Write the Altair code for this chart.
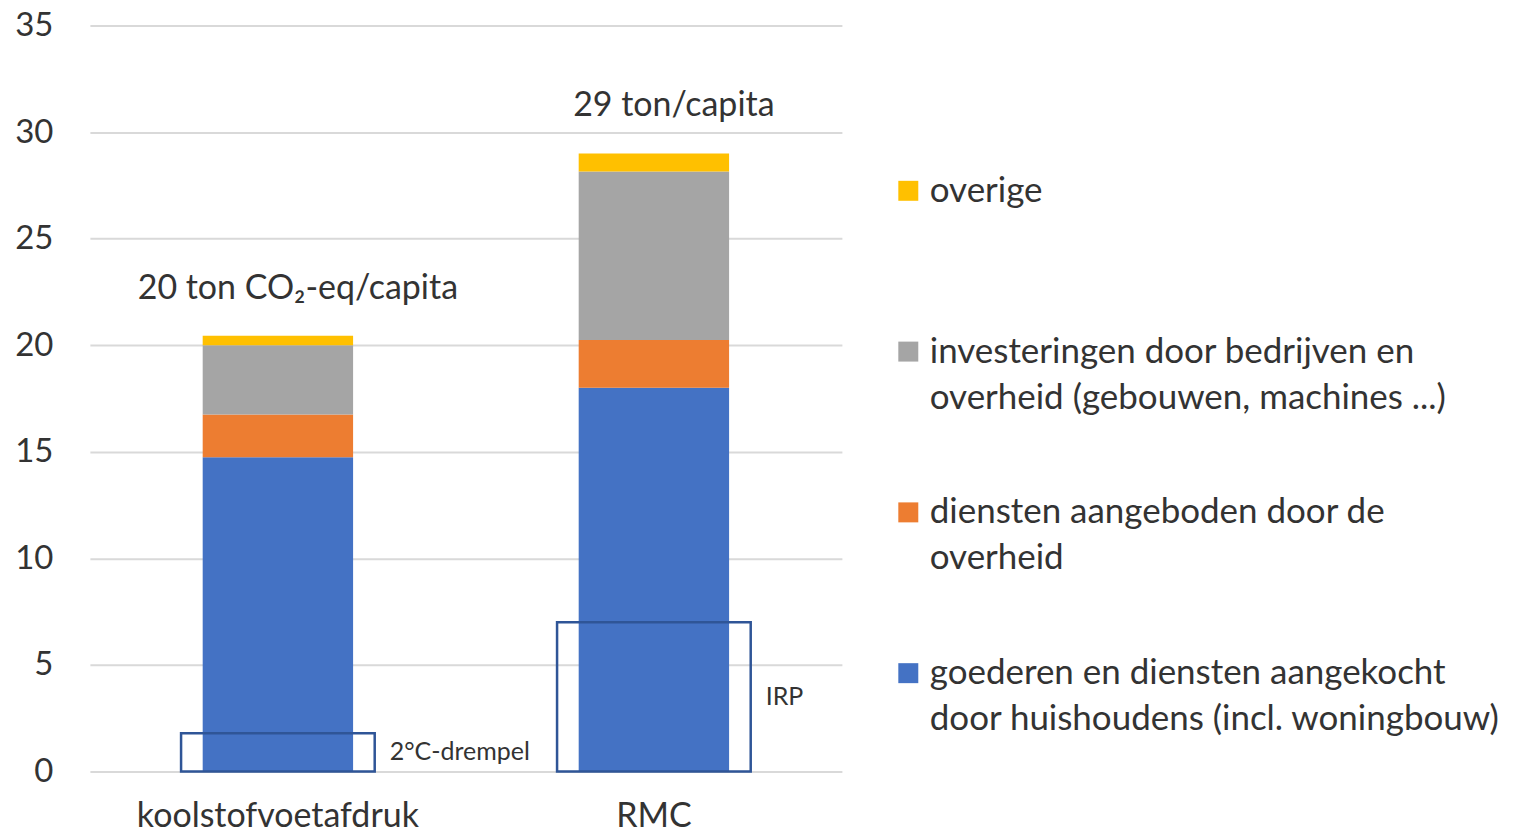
import altair as alt
import pandas as pd

categories = ["koolstofvoetafdruk", "RMC"]
components = [
    "goederen en diensten aangekocht\ndoor huishoudens (incl. woningbouw)",
    "diensten aangeboden door de\noverheid",
    "investeringen door bedrijven en\noverheid (gebouwen, machines ...)",
    "overige\n ",
]
goederen = [14.75, 18.0]
diensten = [2.0, 2.25]
investeringen = [3.25, 7.9]
overige = [0.45, 0.85]
colors = ["#4472C4", "#ED7D31", "#A5A5A5", "#FFC000"]

thresholds = [1.8, 7.0]
threshold_labels = ["2°C-drempel", "IRP"]
total_labels = ["20 ton CO₂-eq/capita", "29 ton/capita"]

series = [goederen, diensten, investeringen, overige]
rows = []
for ci, comp in enumerate(components):
    for ki, cat in enumerate(categories):
        rows.append({"cat": cat, "comp": comp, "val": series[ci][ki], "ord": ci})
df = pd.DataFrame(rows)

tot = df.groupby("cat", sort=False)["val"].sum().reindex(categories).tolist()
df_ann = pd.DataFrame({
    "cat": categories,
    "thr": thresholds,
    "thr_mid": [t / 2 for t in thresholds],
    "thr_label": threshold_labels,
    "total": tot,
    "total_label": total_labels,
})

FONT = "Lato"
TXT = "#333333"

x_enc = alt.X("cat:N", sort=categories, title=None,
              scale=alt.Scale(paddingInner=0, paddingOuter=0),
              axis=alt.Axis(labelFontSize=34, labelColor=TXT, labelFont=FONT,
                            labelPadding=28, ticks=False, domain=False, labelAngle=0,
                            labelLimit=600))
y_scale = alt.Scale(domain=[0, 35], nice=False)

legend_order = list(reversed(components))
legend_colors = list(reversed(colors))

bars = alt.Chart(df).mark_bar(width=alt.RelativeBandSize(0.4)).encode(
    x=x_enc,
    y=alt.Y("val:Q", stack="zero", scale=y_scale, title=None,
            axis=alt.Axis(values=[0, 5, 10, 15, 20, 25, 30, 35], labelFontSize=33,
                          labelColor=TXT, labelFont=FONT, labelPadding=37,
                          ticks=False, domain=False, gridColor="#D9D9D9",
                          gridWidth=2, minExtent=77, maxExtent=77)),
    color=alt.Color("comp:N", scale=alt.Scale(domain=legend_order, range=legend_colors),
                    legend=alt.Legend(title=None, orient="none", legendX=802, legendY=148,
                                      symbolType="square", symbolSize=400,
                                      symbolStrokeWidth=0, labelFontSize=35,
                                      labelFont=FONT, labelColor=TXT, labelOffset=4,
                                      labelLimit=800, rowPadding=79, padding=0,
                                      labelExpr="split(datum.label, '\\n')")),
    order=alt.Order("ord:Q"),
)

boxes = alt.Chart(df_ann).mark_bar(width=alt.RelativeBandSize(0.515), fill="transparent",
                                   stroke="#2F5597", strokeWidth=2.5).encode(
    x=alt.X("cat:N", sort=categories),
    y=alt.Y("thr:Q", scale=y_scale, stack=None),
)

box_text = alt.Chart(df_ann).mark_text(align="left", baseline="middle", dx=112,
                                       fontSize=25, font=FONT, color=TXT).encode(
    x=alt.X("cat:N", sort=categories),
    y=alt.Y("thr_mid:Q", scale=y_scale),
    text="thr_label:N",
)

tot_text = alt.Chart(df_ann).mark_text(align="center", baseline="bottom", dx=20, dy=-30,
                                       fontSize=34, font=FONT, color=TXT).encode(
    x=alt.X("cat:N", sort=categories),
    y=alt.Y("total:Q", scale=y_scale),
    text="total_label:N",
)

chart = alt.layer(bars, boxes, box_text, tot_text).properties(
    width=753, height=747,
    padding={"left": 5, "top": 1, "right": 5, "bottom": 0},
).configure(
    style={"guide-label": {"lineHeight": 46}},
    view=alt.ViewConfig(stroke=None),
)

chart.save("out.html", embed_options={"renderer": "svg", "actions": False})
